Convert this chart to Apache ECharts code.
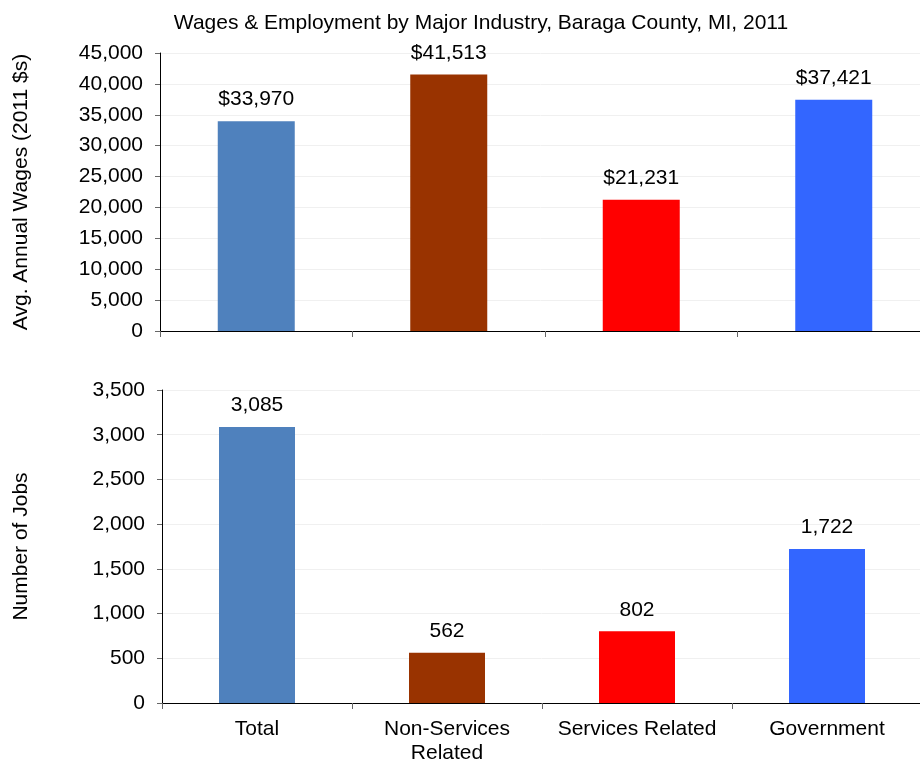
<!DOCTYPE html>
<html><head><meta charset="utf-8">
<script src="https://cdn.jsdelivr.net/npm/echarts@6/dist/echarts.min.js"></script>
<style>html,body{margin:0;padding:0;background:#fff}#c{width:920px;height:759px}</style>
</head><body><div id="c"></div>
<script>
const categories = ['Total', 'Non-Services\nRelated', 'Services Related', 'Government'];
const wages = [33970, 41513, 21231, 37421];
const jobs = [3085, 562, 802, 1722];
const colors = ['#4F81BD', '#993300', '#FF0000', '#3366FF'];
const titleText = 'Wages & Employment by Major Industry, Baraga County, MI, 2011';
const font = '"Liberation Sans", Arial, sans-serif';
const FS = 21;

const chart = echarts.init(document.getElementById('c'), null, {renderer: 'canvas'});
const fmt = v => v.toLocaleString('en-US');
const axisCommon = {
  axisLine: {show: true, lineStyle: {color: '#000', width: 1}},
  axisLabel: {color: '#000', fontSize: FS, fontFamily: font},
  nameTextStyle: {color: '#000', fontSize: FS, fontFamily: font}
};
chart.setOption({
  animation: false,
  textStyle: {fontFamily: font},
  title: {text: titleText, left: 476, top: 8, textAlign: 'center',
    textStyle: {fontSize: FS, fontWeight: 'normal', color: '#000', fontFamily: font}},
  grid: [
    {left: 160, top: 53, width: 770, height: 278, outerBoundsMode: 'none', containLabel: false},
    {left: 162, top: 390, width: 760, height: 313, outerBoundsMode: 'none', containLabel: false}
  ],
  xAxis: [
    {type: 'category', gridIndex: 0, data: categories,
     axisLine: {lineStyle: {color: '#000'}}, axisTick: {show: true, length: 6, lineStyle: {color: '#666'}},
     axisLabel: {show: false}},
    {type: 'category', gridIndex: 1, data: categories,
     axisLine: {lineStyle: {color: '#000'}}, axisTick: {show: true, length: 6, lineStyle: {color: '#666'}},
     axisLabel: {color: '#000', fontSize: FS, fontFamily: font, margin: 14, lineHeight: 24, interval: 0}}
  ],
  yAxis: [
    Object.assign({}, axisCommon, {type: 'value', gridIndex: 0, min: 0, max: 45000, interval: 5000,
      name: 'Avg. Annual Wages (2011 $s)', nameLocation: 'middle', nameGap: 128, nameRotate: 90,
      axisTick: {show: true, length: 5, lineStyle: {color: '#666'}},
      axisLabel: Object.assign({}, axisCommon.axisLabel, {formatter: fmt, margin: 17}),
      splitLine: {show: true, lineStyle: {color: '#f0f0f0'}}}),
    Object.assign({}, axisCommon, {type: 'value', gridIndex: 1, min: 0, max: 3500, interval: 500,
      name: 'Number of Jobs', nameLocation: 'middle', nameGap: 130, nameRotate: 90,
      axisTick: {show: true, length: 5, lineStyle: {color: '#666'}},
      axisLabel: Object.assign({}, axisCommon.axisLabel, {formatter: fmt, margin: 17}),
      splitLine: {show: true, lineStyle: {color: '#f0f0f0'}}})
  ],
  series: [
    {type: 'bar', xAxisIndex: 0, yAxisIndex: 0, barWidth: '40%',
     data: wages.map((v, i) => ({value: v, itemStyle: {color: colors[i]}})),
     label: {show: true, position: 'top', distance: 11, color: '#000', fontSize: FS, fontFamily: font,
       formatter: p => '$' + fmt(p.value)}},
    {type: 'bar', xAxisIndex: 1, yAxisIndex: 1, barWidth: '40%',
     data: jobs.map((v, i) => ({value: v, itemStyle: {color: colors[i]}})),
     label: {show: true, position: 'top', distance: 11, color: '#000', fontSize: FS, fontFamily: font,
       formatter: p => fmt(p.value)}}
  ]
});
</script></body></html>
